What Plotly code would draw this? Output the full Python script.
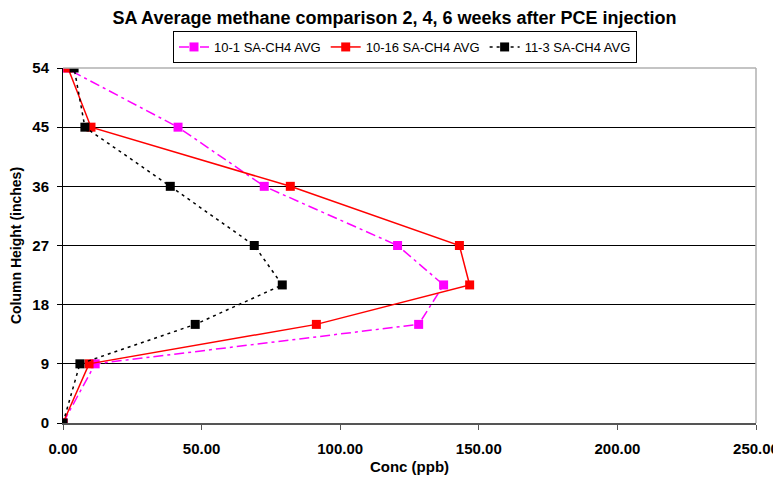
import plotly.graph_objects as go

heights = [0, 9, 15, 21, 27, 36, 45, 54]
s_10_1 = [0, 11.6, 128.3, 137.3, 120.7, 72.6, 41.5, 1.0]
s_10_16 = [0, 9.4, 91.4, 146.7, 143.0, 82.0, 10.1, 1.8]
s_11_3 = [0, 6.1, 47.7, 79.1, 69.0, 38.7, 7.9, 4.0]
x_ticks = [0, 50, 100, 150, 200, 250]
y_ticks = [0, 9, 18, 27, 36, 45, 54]

W, H = 781, 467  # page body has an 8px margin

fig = go.Figure()
fig.add_trace(go.Scatter(x=s_10_1, y=heights, name="10-1 SA-CH4 AVG", mode="lines+markers",
                         line=dict(color="#ff00ff", width=1.5, dash="10px,4px,3px,4px"),
                         marker=dict(symbol="square", size=9, color="#ff00ff")))
fig.add_trace(go.Scatter(x=s_10_16, y=heights, name="10-16 SA-CH4 AVG", mode="lines+markers",
                         line=dict(color="#ff0000", width=1.5, dash="solid"),
                         marker=dict(symbol="square", size=9, color="#ff0000")))
fig.add_trace(go.Scatter(x=s_11_3, y=heights, name="11-3 SA-CH4 AVG", mode="lines+markers",
                         line=dict(color="#000000", width=1.5, dash="3px,4px"),
                         marker=dict(symbol="square", size=9, color="#000000")))

fig.update_layout(
    width=W, height=H,
    margin=dict(l=55, r=33, t=60, b=52, autoexpand=False),
    paper_bgcolor="white", plot_bgcolor="white",
    font=dict(family="Liberation Sans, Arial", size=12, color="black"),
    title=dict(text="SA Average methane comparison 2, 4, 6 weeks after PCE injection",
               x=386.5 / W, xanchor="center", xref="container", yref="container",
               y=1 - 10 / H, yanchor="middle", font=dict(size=18, weight="bold")),
    legend=dict(orientation="h", x=397 / W, xanchor="center", xref="container",
                yref="container", y=1 - 23 / H, yanchor="top",
                bordercolor="black", borderwidth=1, font=dict(size=13),
                itemwidth=30, tracegroupgap=0),
    showlegend=True,
)
fig.update_xaxes(range=[0, 250], tickvals=x_ticks, ticktext=[f"{v:.2f}" for v in x_ticks],
                 tickfont=dict(size=15, weight="bold"), automargin=False,
                 showgrid=False, zeroline=False, showline=True, linecolor="#555555", linewidth=1.5,
                 ticks="outside", ticklen=5, tickcolor="#555555", ticklabelstandoff=6,
                 title=dict(text="Conc (ppb)", font=dict(size=15, weight="bold"), standoff=6))
fig.update_yaxes(range=[0, 54], tickvals=y_ticks, ticktext=[str(v) for v in y_ticks],
                 tickfont=dict(size=15, weight="bold"), automargin=False,
                 showgrid=True, gridcolor="black", gridwidth=1, zeroline=False,
                 showline=True, linecolor="black", linewidth=1,
                 ticks="outside", ticklen=5, tickcolor="black", ticklabelstandoff=5,
                 title=dict(text="Column Height (inches)", font=dict(size=14, weight="bold"), standoff=8))
# gray frame top and right
fig.add_shape(type="line", xref="paper", yref="paper", x0=0, x1=1, y0=1, y1=1,
              line=dict(color="#b0b0b0", width=1.5))
fig.add_shape(type="line", xref="paper", yref="paper", x0=1, x1=1, y0=0, y1=1,
              line=dict(color="#b0b0b0", width=1.5))
fig.write_html("out.html")
